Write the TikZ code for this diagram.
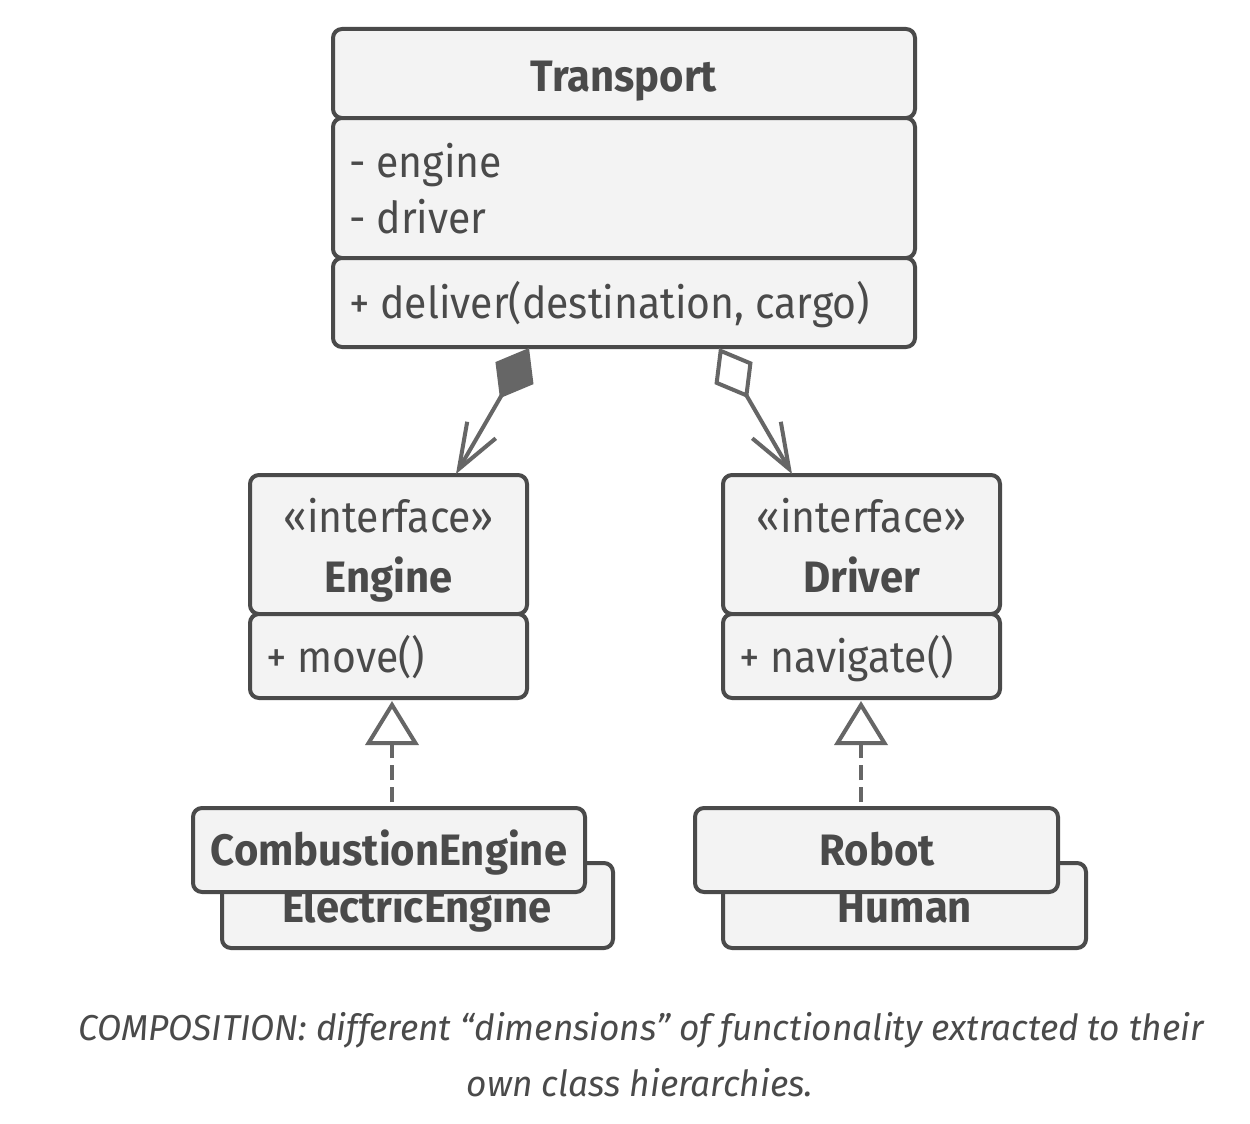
\documentclass[tikz,border=0pt]{standalone}
\usepackage{fontspec}
\setmainfont{Fira Sans}[FakeStretch=0.93, BoldFeatures={FakeStretch=0.95}]
\newfontfamily\capfont{Fira Sans}[FakeStretch=0.98]
\usetikzlibrary{arrows.meta,calc}
\definecolor{bd}{HTML}{4A4A4A}
\definecolor{fl}{HTML}{F3F3F3}
\definecolor{ln}{HTML}{666666}
\definecolor{tx}{HTML}{4A4A4A}
\begin{document}
\begin{tikzpicture}[x=1pt,y=-1pt,
  comp/.style={draw=bd, fill=fl, line width=4pt, rounded corners=9pt, inner sep=0pt, outer sep=0pt, anchor=north west},
  txt/.style={text=tx, inner sep=0pt, font=\fontsize{44}{50}\selectfont},
  btxt/.style={text=tx, inner sep=0pt, font=\fontsize{44}{50}\selectfont\bfseries},
  ctxt/.style={text=tx, inner sep=0pt, font=\capfont\fontsize{36}{42}\selectfont\itshape},
  conn/.style={draw=ln, line width=4pt},
  dashconn/.style={draw=ln, line width=4pt, dash pattern=on 15pt off 7pt, dash phase=16pt}
]
\useasboundingbox[fill=white] (0,0) rectangle (1250,1124);

% Transport
\node[comp, minimum width=582pt, minimum height=89pt] (Thead) at (333,29) {};
\node[comp, minimum width=582pt, minimum height=140pt] (Tattr) at (333,118) {};
\node[comp, minimum width=582pt, minimum height=89pt] (Tmeth) at (333,258) {};
\node[btxt, anchor=base] (Tname) at (624,92) {Transport};
\node[txt, anchor=base west] (Ta1) at (349,177) {- engine};
\node[txt, anchor=base west] (Ta2) at (349,233) {- driver};
\node[txt, anchor=base west] (Tm1) at (349,318) {+ deliver(destination, cargo)};

% Engine
\node[comp, minimum width=277pt, minimum height=139pt] (Eh) at (250,475) {};
\node[comp, minimum width=277pt, minimum height=84pt] (Em) at (250,614) {};
\node[txt, anchor=base] (Es) at (388.5,532) {«interface»};
\node[btxt, anchor=base] (En) at (388.5,592) {Engine};
\node[txt, anchor=base west] (Em1) at (266,672) {+ move()};

% Driver
\node[comp, minimum width=277pt, minimum height=139pt] (Dh) at (723,475) {};
\node[comp, minimum width=277pt, minimum height=84pt] (Dm) at (723,614) {};
\node[txt, anchor=base] (Ds) at (861.5,532) {«interface»};
\node[btxt, anchor=base] (Dn) at (861.5,592) {Driver};
\node[txt, anchor=base west] (Dm1) at (739,672) {+ navigate()};

% Engine implementations
\node[comp, minimum width=391pt, minimum height=85pt] (Ee) at (222,863) {};
\node[btxt, anchor=base] (EeT) at (417,922) {ElectricEngine};
\node[comp, minimum width=392pt, minimum height=84pt] (Ce) at (193,808) {};
\node[btxt, anchor=base] (CeT) at (389,865) {CombustionEngine};

% Driver implementations
\node[comp, minimum width=363pt, minimum height=85pt] (Hu) at (723,863) {};
\node[btxt, anchor=base] (HuT) at (905,922) {Human};
\node[comp, minimum width=363pt, minimum height=84pt] (Ro) at (695,808) {};
\node[btxt, anchor=base] (RoT) at (877,865) {Robot};

% connectors
\coordinate (cA) at ($(Tmeth.south)+(-95,1)$);
\coordinate (cB) at ($(Eh.north west)+(206,-1)$);
\coordinate (cC) at ($(Tmeth.south)+(95,1)$);
\coordinate (cD) at ($(Dh.north west)+(69,-1)$);
\draw[conn, {Diamond[length=58pt,width=44pt,fill=ln]}-{Straight Barb[length=45pt,width=33pt]}] (cA) -- (cB);
\draw[conn, {Diamond[open,length=58pt,width=44pt]}-{Straight Barb[length=45pt,width=33pt]}] (cC) -- (cD);

\coordinate (cE) at ($(Em.south west)+(142,3)$);
\coordinate (cF) at ($(Ce.north west)+(199,0)$);
\coordinate (cG) at ($(Dm.south west)+(138,3)$);
\coordinate (cH) at ($(Ro.north west)+(166,0)$);
\draw[dashconn, -{Triangle[open,length=44pt,width=53pt]}] (cF) -- (cE);
\draw[dashconn, -{Triangle[open,length=44pt,width=53pt]}] (cH) -- (cG);

% caption
\node[ctxt, anchor=base] (cap1) at (641,1040) {COMPOSITION: different “dimensions” of functionality extracted to their};
\node[ctxt, anchor=base] (cap2) at (640,1096) {own class hierarchies.};
\end{tikzpicture}
\end{document}
